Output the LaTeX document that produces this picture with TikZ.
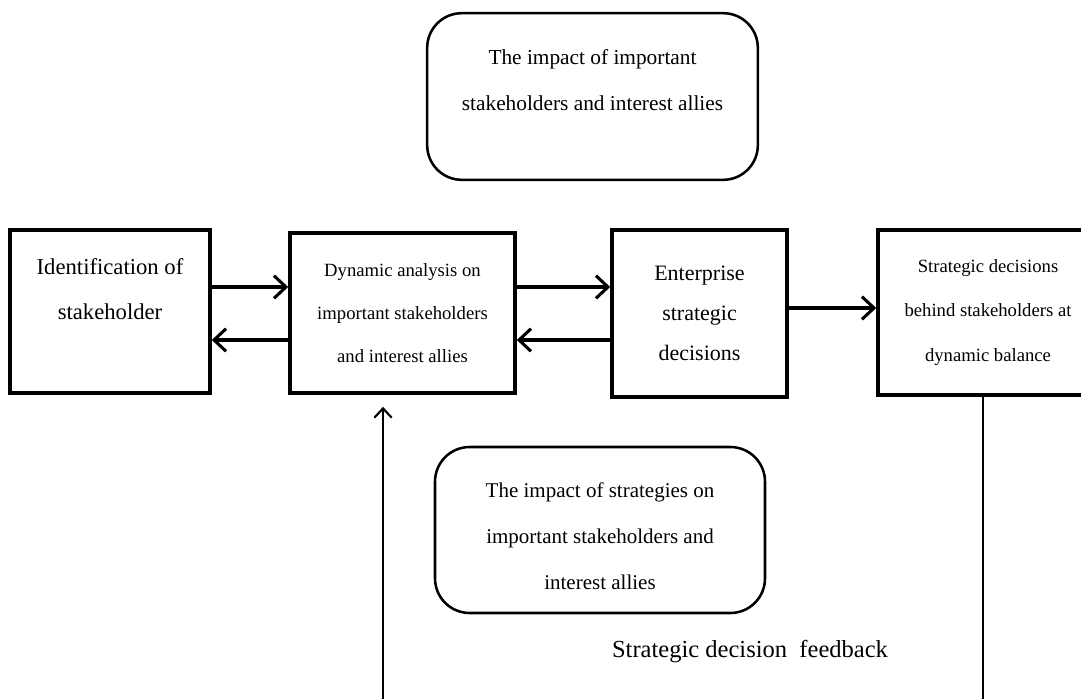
\documentclass[tikz,border=0pt]{standalone}
\usepackage{fontspec}
\setmainfont{Liberation Serif}
\usetikzlibrary{arrows.meta}

% Font sizes given in pt with their line spacing
\newcommand{\fsz}[2]{\fontsize{#1}{#2}\selectfont}

\begin{document}
\begin{tikzpicture}[x=0.75pt, y=-0.75pt,
  stagebox/.style={draw, line width=2.7pt, rectangle, align=center, inner sep=0pt},
  softbox/.style={draw, line width=1.9pt, rounded corners=26pt, align=center, inner sep=0pt},
  flow/.style={line width=2.4pt, -{Straight Barb[length=9pt, width=17pt, line width=2.3pt]}},
  loopline/.style={line width=1.7pt, -{Straight Barb[length=7pt, width=13pt, line width=1.6pt]}, shorten >=9pt}]

\useasboundingbox (0,0) rectangle (1081,699);

% Main chain of stages
\node[stagebox, minimum width=150pt, minimum height=122pt,
      font=\fsz{17pt}{33.75pt}] (ident) at (110,311.5)
  {Identification of\\stakeholder\\\mbox{}};
\node[stagebox, minimum width=168.75pt, minimum height=120pt,
      font=\fsz{14pt}{32.5pt}] (dyn) at (402.5,313)
  {Dynamic analysis on\\important stakeholders\\and interest allies};
\node[stagebox, minimum width=131.25pt, minimum height=125pt,
      font=\fsz{16.5pt}{30pt}] (ent) at (699.5,313.5)
  {Enterprise\\strategic\\decisions};
\node[stagebox, minimum width=165pt, minimum height=124pt,
      font=\fsz{14pt}{33.5pt}] (bal) at (988,312.5)
  {Strategic decisions\\behind stakeholders at\\dynamic balance};

% Influence boxes
\node[softbox, minimum width=248pt, minimum height=125pt,
      font=\fsz{16pt}{34.5pt}] (impstake) at (592.5,96.5)
  {The impact of important\\stakeholders and interest allies\\[-9.75pt]\mbox{}};
\node[softbox, minimum width=247.5pt, minimum height=124.5pt,
      font=\fsz{15.75pt}{34.5pt}] (impstrat) at (600,530)
  {\mbox{}\\[-14.8pt]The impact of strategies on\\important stakeholders and\\interest allies};

\node[font=\fsz{18.4pt}{22pt}, inner sep=0pt] (fbtext) at (750,652)
  {Strategic decision\hspace{0.25em} feedback};

% Forward and backward flows
\draw[flow] (ident.east |- 0,287) -- (dyn.west |- 0,287);
\draw[flow] (dyn.west |- 0,340) -- (ident.east |- 0,340);
\draw[flow] (dyn.east |- 0,287) -- (ent.west |- 0,287);
\draw[flow] (ent.west |- 0,340) -- (dyn.east |- 0,340);
\draw[flow] (ent.east |- 0,308) -- (bal.west |- 0,308);

% Feedback loop, running below the lower edge
\coordinate (fbR) at (983,740);
\coordinate (fbL) at (383,740);
\draw[loopline] (bal.south -| fbR) -- (fbR) -- (fbL) -- (dyn.south -| fbL);

\end{tikzpicture}
\end{document}
